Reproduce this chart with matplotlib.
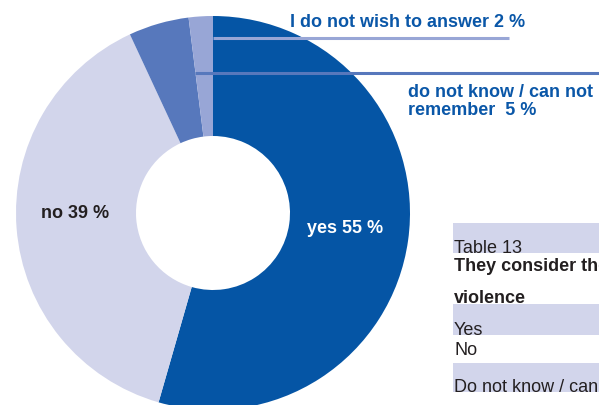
import matplotlib.pyplot as plt

plt.rcParams['font.family'] = ['Liberation Sans', 'DejaVu Sans']

# answers, clockwise from 12 o'clock
answers = ['yes', 'no', 'do not know / can not remember', 'I do not wish to answer']
shares = [55, 39, 5, 2]
colors = ['#0555a5', '#d2d5eb', '#5778bc', '#98a6d6']

table_rows = ['Yes', 'No', 'Do not know / can not remember']

W, H = 599, 405
fig = plt.figure(figsize=(W / 100, H / 100), dpi=100)
ax = fig.add_axes([0, 0, 1, 1])

# work in pixel units, y measured from the top
def py(y):
    return H - y

cx, cy = 213, 213
r_out, r_in = 197, 77
ax.pie(shares, colors=colors, startangle=90, counterclock=False,
       center=(cx, py(cy)), radius=r_out,
       wedgeprops=dict(width=r_out - r_in, linewidth=0))
ax.set_xlim(0, W)
ax.set_ylim(0, H)
ax.set_aspect('equal')
ax.axis('off')

blue = '#0a57a8'
dark = '#231f20'
fs = 13

# leader lines for the two small slices
ax.plot([213, 509], [py(38), py(38)], color=colors[3], lw=2.2, solid_capstyle='butt')
ax.plot([195, 600], [py(73), py(73)], color=colors[2], lw=2.2, solid_capstyle='butt')

ax.text(290, py(27), 'I do not wish to answer %d %%' % shares[3], color=blue,
        fontsize=fs, fontweight='bold', va='baseline', ha='left')
ax.text(408, py(97), 'do not know / can not', color=blue,
        fontsize=fs, fontweight='bold', va='baseline', ha='left')
ax.text(408, py(115), 'remember  %d %%' % shares[2], color=blue,
        fontsize=fs, fontweight='bold', va='baseline', ha='left')
ax.text(41, py(218), 'no %d %%' % shares[1], color=dark,
        fontsize=fs, fontweight='bold', va='baseline', ha='left')
ax.text(307, py(233), 'yes %d %%' % shares[0], color='white',
        fontsize=fs, fontweight='bold', va='baseline', ha='left')

# table beside the chart (runs off the right edge)
band = colors[1]
for top, bottom in [(223, 253), (304, 335), (363, 392)]:
    ax.add_patch(plt.Rectangle((453, py(bottom)), W - 453, bottom - top,
                               color=band, lw=0, zorder=0))
ax.text(454, py(253), 'Table 13', color=dark, fontsize=fs, va='baseline')
ax.text(454, py(271), 'They consider the situation as', color=dark,
        fontsize=fs, fontweight='bold', va='baseline')
ax.text(454, py(303), 'violence', color=dark, fontsize=fs,
        fontweight='bold', va='baseline')
for label, base in zip(table_rows, [335, 355, 392]):
    ax.text(454, py(base), label, color=dark, fontsize=fs, va='baseline')

fig.savefig('out.png', dpi=100)
